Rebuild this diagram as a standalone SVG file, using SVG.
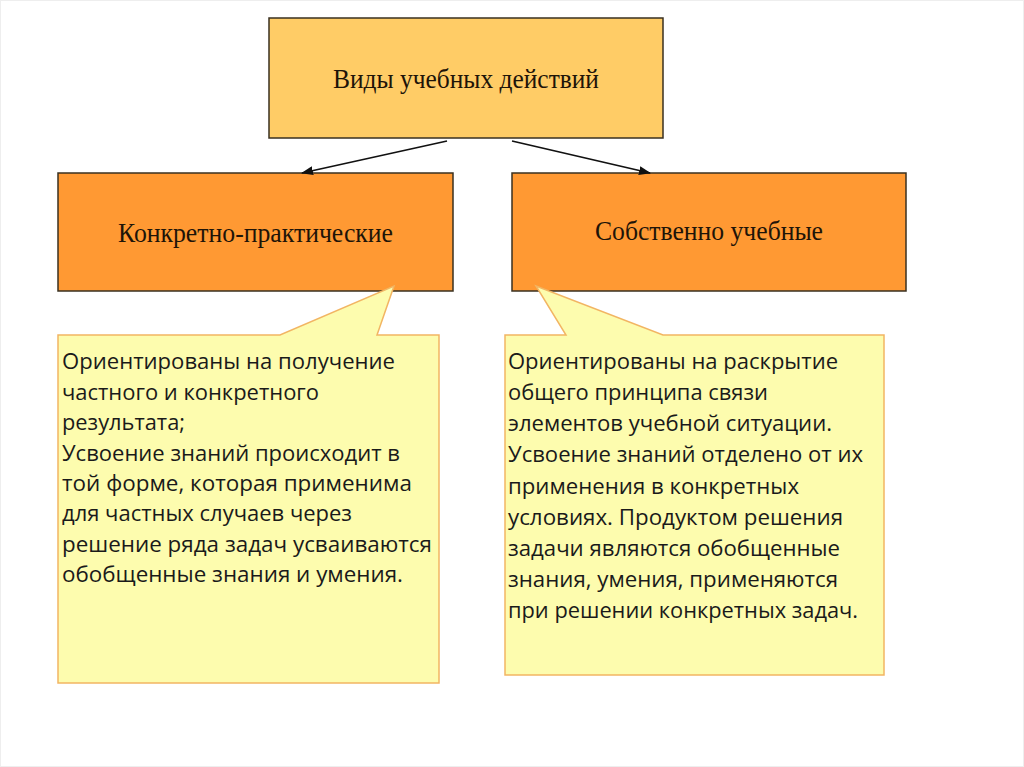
<svg xmlns="http://www.w3.org/2000/svg" width="1024" height="767" viewBox="0 0 1024 767">
<style>
.box{stroke:#3a3020;stroke-width:1.5}
.top{fill:#ffcc66}
.mid{fill:#ff9933}
.call{fill:#fdfcae;stroke:#f2b563;stroke-width:1.5}
.head{font-family:"Liberation Serif","Times New Roman",serif;font-size:28px;fill:#1e1408}
.body{font-family:"Open Sans","Noto Sans","Liberation Sans",sans-serif;font-size:21.5px;fill:#1a1a1a}
.conn{stroke:#111;stroke-width:1.6;fill:none}
</style>
<defs>
<marker id="ah" markerWidth="12" markerHeight="9" refX="11" refY="4.5" orient="auto" markerUnits="userSpaceOnUse">
<path d="M0,0 L12,4.5 L0,9 Z" fill="#111"/>
</marker>
</defs>
<rect x="0.5" y="0.5" width="1023" height="766" fill="#fff" stroke="#eeeeee" stroke-width="1"/>
<g id="node-top">
<rect class="box top" x="269" y="18" width="394" height="120"/>
<text class="head" x="333" y="88" textLength="266" lengthAdjust="spacingAndGlyphs">Виды учебных действий</text>
</g>
<g id="node-left">
<rect class="box mid" x="58" y="173" width="395" height="118"/>
<text class="head" x="118" y="242" textLength="275" lengthAdjust="spacingAndGlyphs">Конкретно-практические</text>
</g>
<g id="node-right">
<rect class="box mid" x="512" y="173" width="394" height="118"/>
<text class="head" x="595" y="240" textLength="228" lengthAdjust="spacingAndGlyphs">Собственно учебные</text>
</g>
<g id="connectors">
<line class="conn" x1="447" y1="141" x2="302" y2="173" marker-end="url(#ah)"/>
<line class="conn" x1="512" y1="141" x2="650" y2="173" marker-end="url(#ah)"/>
</g>
<g id="callout-left">
<path class="call" d="M58,335 L280,335 L394,286 L377,335 L439,335 L439,683 L58,683 Z"/>
<text class="body">
<tspan x="62" y="369" textLength="333" lengthAdjust="spacingAndGlyphs">Ориентированы на получение</tspan>
<tspan x="62" y="399.5" textLength="257" lengthAdjust="spacingAndGlyphs">частного и конкретного</tspan>
<tspan x="62" y="430" textLength="123" lengthAdjust="spacingAndGlyphs">результата;</tspan>
<tspan x="62" y="460.5" textLength="338" lengthAdjust="spacingAndGlyphs">Усвоение знаний происходит в</tspan>
<tspan x="62" y="491" textLength="350" lengthAdjust="spacingAndGlyphs">той форме, которая применима</tspan>
<tspan x="62" y="521" textLength="290" lengthAdjust="spacingAndGlyphs">для частных случаев через</tspan>
<tspan x="62" y="551.5" textLength="370" lengthAdjust="spacingAndGlyphs">решение ряда задач усваиваются</tspan>
<tspan x="62" y="582" textLength="341" lengthAdjust="spacingAndGlyphs">обобщенные знания и умения.</tspan>
</text>
</g>
<g id="callout-right">
<path class="call" d="M505,335 L566,335 L536,286 L663,335 L884,335 L884,675 L505,675 Z"/>
<text class="body">
<tspan x="508" y="369" textLength="330" lengthAdjust="spacingAndGlyphs">Ориентированы на раскрытие</tspan>
<tspan x="508" y="400" textLength="260" lengthAdjust="spacingAndGlyphs">общего принципа связи</tspan>
<tspan x="508" y="431" textLength="324" lengthAdjust="spacingAndGlyphs">элементов учебной ситуации.</tspan>
<tspan x="508" y="462" textLength="355" lengthAdjust="spacingAndGlyphs">Усвоение знаний отделено от их</tspan>
<tspan x="508" y="493.5" textLength="291" lengthAdjust="spacingAndGlyphs">применения в конкретных</tspan>
<tspan x="508" y="524.5" textLength="335" lengthAdjust="spacingAndGlyphs">условиях. Продуктом решения</tspan>
<tspan x="508" y="555.5" textLength="332" lengthAdjust="spacingAndGlyphs">задачи являются обобщенные</tspan>
<tspan x="508" y="587" textLength="330" lengthAdjust="spacingAndGlyphs">знания, умения, применяются</tspan>
<tspan x="508" y="618" textLength="350" lengthAdjust="spacingAndGlyphs">при решении конкретных задач.</tspan>
</text>
</g>
</svg>
